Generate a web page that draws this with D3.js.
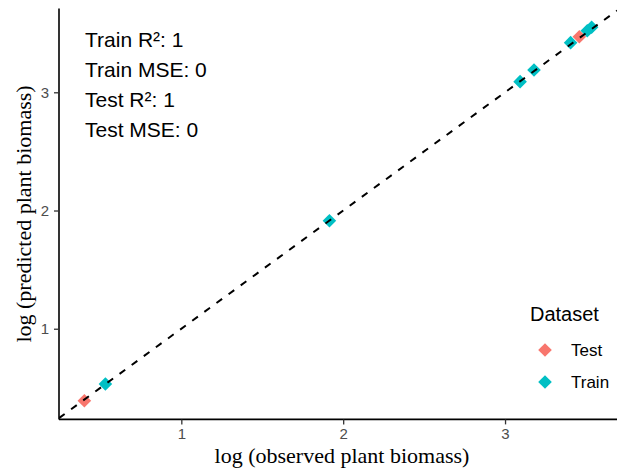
<!DOCTYPE html>
<html>
<head>
<meta charset="utf-8">
<script src="https://cdn.jsdelivr.net/npm/d3@7"></script>
<style>
	body { margin: 0; background: #fff; }
	svg { display: block; }
	text { font-family: "Liberation Sans", Arial, sans-serif; }
	.axis-title { font-family: "Liberation Serif", "Times New Roman", serif; font-size: 22px; fill: #000; }
</style>
</head>
<body>
<div id="graph"></div>
<script>
// log observed vs log predicted, one entry per plant
var dataset   = ['Test', 'Train', 'Train', 'Train', 'Train', 'Train', 'Test', 'Train', 'Train']
var observed  = [0.401, 0.531, 1.915, 3.093, 3.179, 3.405, 3.459, 3.508, 3.535]
var predicted = [0.391, 0.532, 1.914, 3.090, 3.189, 3.420, 3.470, 3.521, 3.550]

var xTicks = [1, 2, 3]
var yTicks = [1, 2, 3]
var groups = ['Test', 'Train']
var groupColors = ['#F8766D', '#00BFC4']
var statLabels = ['Train R²: 1', 'Train MSE: 0', 'Test R²: 1', 'Test MSE: 0']

var width = 622, height = 469
var margin = {top: 8.6, right: 5, bottom: 49.6, left: 59}

var points = observed.map((d, i) => ({obs: d, pred: predicted[i], set: dataset[i]}))

// ggplot style 5% padding on each side
function padded(ext){
	var pad = (ext[1] - ext[0])*0.05
	return [ext[0] - pad, ext[1] + pad]
}

var x = d3.scaleLinear()
	.domain(padded(d3.extent(observed)))
	.range([margin.left, width - margin.right])

var y = d3.scaleLinear()
	.domain(padded(d3.extent(predicted)))
	.range([height - margin.bottom, margin.top])

var color = d3.scaleOrdinal().domain(groups).range(groupColors)

var svg = d3.select('#graph').append('svg')
	.attr('width', width)
	.attr('height', height)

svg.append('clipPath').attr('id', 'panel')
	.append('rect')
	.attr('x', x.range()[0]).attr('y', y.range()[1])
	.attr('width', x.range()[1] - x.range()[0])
	.attr('height', y.range()[0] - y.range()[1])

// diamond like ggplot shape 18
var diamond = r => `M0,${-r}L${r},0L0,${r}L${-r},0Z`

svg.append('g').selectAll('path')
	.data(points)
	.join('path')
	.attr('transform', d => `translate(${x(d.obs)},${y(d.pred)})`)
	.attr('d', diamond(6.8))
	.attr('fill', d => color(d.set))

// 1:1 line
var xd = x.domain()
svg.append('line')
	.attr('clip-path', 'url(#panel)')
	.attr('x1', x(xd[0])).attr('y1', y(xd[0]))
	.attr('x2', x(xd[1])).attr('y2', y(xd[1]))
	.attr('stroke', '#000')
	.attr('stroke-width', 2)
	.attr('stroke-dasharray', '7,8')

// axes
var xAxis = d3.axisBottom(x).tickValues(xTicks).tickFormat(d3.format('d')).tickSize(5).tickPadding(4)
var yAxis = d3.axisLeft(y).tickValues(yTicks).tickFormat(d3.format('d')).tickSize(5).tickPadding(5)

var gx = svg.append('g')
	.attr('transform', `translate(0,${y.range()[0]})`)
	.call(xAxis)
var gy = svg.append('g')
	.attr('transform', `translate(${x.range()[0]},0)`)
	.call(yAxis)

;[gx, gy].forEach(g => {
	g.select('.domain').attr('stroke', '#000').attr('stroke-width', 1.6)
	g.selectAll('.tick line').attr('stroke', '#333').attr('stroke-width', 1.3)
	g.selectAll('.tick text')
		.attr('fill', '#4D4D4D')
		.style('font-family', '"Liberation Sans", Arial, sans-serif')
		.style('font-size', '15px')
})
gx.select('.domain').attr('d', `M${x.range()[0]},0H${x.range()[1]}`)
gy.select('.domain').attr('d', `M0,${y.range()[0]}V${y.range()[1]}`)

svg.append('text').attr('class', 'axis-title')
	.attr('x', (x.range()[0] + x.range()[1])/2 + 4)
	.attr('y', 463)
	.attr('text-anchor', 'middle')
	.text('log (observed plant biomass)')

svg.append('text').attr('class', 'axis-title')
	.attr('transform', `translate(31,${(y.range()[0] + y.range()[1])/2}) rotate(-90)`)
	.attr('text-anchor', 'middle')
	.text('log (predicted plant biomass)')

// model stats
svg.append('g').selectAll('text')
	.data(statLabels)
	.join('text')
	.attr('x', 85)
	.attr('y', (d, i) => 46.7 + i*30.2)
	.style('font-size', '21px')
	.attr('fill', '#000')
	.text(d => d)

// legend
var legend = svg.append('g').attr('transform', 'translate(530,0)')
legend.append('text')
	.attr('y', 321)
	.style('font-size', '20px')
	.text('Dataset')

var item = legend.selectAll('g.item')
	.data(groups)
	.join('g')
	.attr('class', 'item')
	.attr('transform', (d, i) => `translate(0,${350 + i*32})`)

item.append('path')
	.attr('transform', 'translate(15,0)')
	.attr('d', diamond(6.8))
	.attr('fill', d => color(d))

item.append('text')
	.attr('x', 41)
	.attr('y', 6)
	.style('font-size', '17px')
	.text(d => d)
</script>
</body>
</html>
